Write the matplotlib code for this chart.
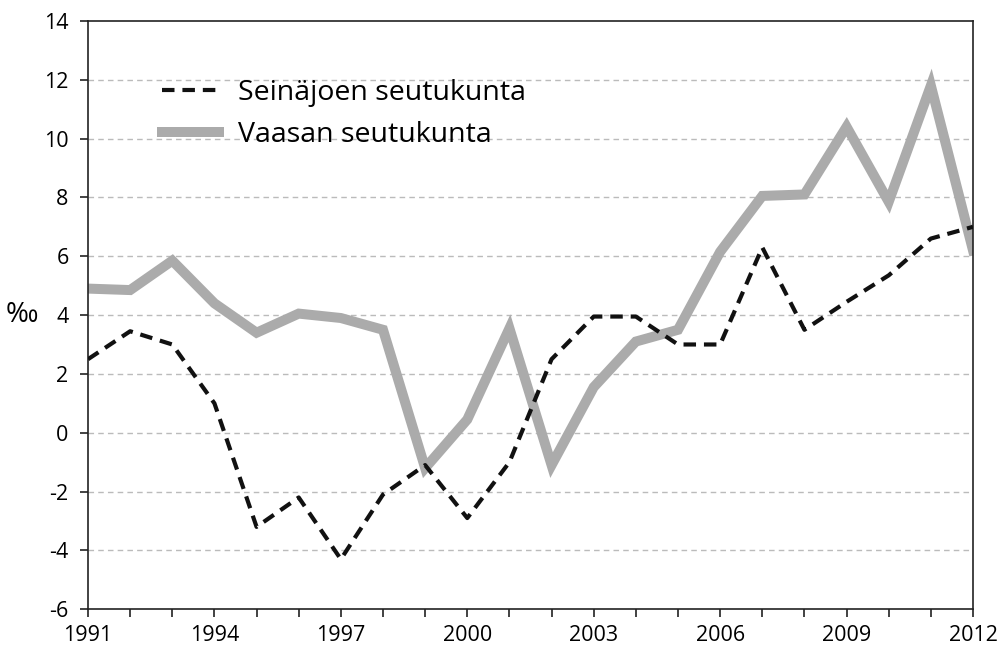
import matplotlib
matplotlib.use('Agg')
import matplotlib.pyplot as plt
from matplotlib.ticker import MultipleLocator

years = list(range(1991, 2013))
seinajoki = [2.5, 3.45, 3.0, 1.0, -3.2, -2.2, -4.3, -2.1, -1.1, -2.9, -1.0,
             2.5, 3.95, 3.95, 3.0, 3.0, 6.3, 3.5, 4.45, 5.35, 6.6, 7.0]
vaasa = [4.9, 4.85, 5.85, 4.4, 3.4, 4.05, 3.9, 3.5, -1.2, 0.45, 3.55,
         -1.1, 1.55, 3.1, 3.5, 6.15, 8.05, 8.1, 10.4, 7.85, 11.8, 6.2]
labels = ['Seinäjoen seutukunta', 'Vaasan seutukunta']
xlabels = list(range(1991, 2013, 3))

plt.rcParams['font.family'] = ['Open Sans', 'DejaVu Sans']
plt.rcParams['axes.unicode_minus'] = False

fig = plt.figure(figsize=(10, 6.53), dpi=100)
ax = fig.add_axes([0.088, 0.067, 0.885, 0.901])

ax.plot(years, seinajoki, color='#111111', lw=3.0, ls=(0, (3.0, 1.9)),
        label=labels[0], zorder=3)
ax.plot(years, vaasa, color='#ababab', lw=7.2, solid_joinstyle='miter',
        label=labels[1], zorder=2)

ax.set_xlim(1991, 2012)
ax.set_ylim(-6, 14)
ax.yaxis.set_major_locator(MultipleLocator(2))
ax.set_xticks(xlabels)
ax.xaxis.set_minor_locator(MultipleLocator(1))
ax.tick_params(axis='both', which='both', direction='out', length=6,
               width=1.2, labelsize=15.5, color='#222222')
ax.tick_params(axis='x', pad=5)
ax.tick_params(axis='y', pad=8)

for y in range(-4, 14, 2):
    ax.axhline(y, color='#bbbbbb', lw=1, ls=(0, (4, 3)), zorder=1)

for s in ax.spines.values():
    s.set_linewidth(1.2)
    s.set_color('#222222')

ax.set_ylabel('‰', rotation=0, fontsize=20, labelpad=16, va='center')

leg = ax.legend(loc='upper left', bbox_to_anchor=(0.055, 0.945), frameon=False,
                fontsize=20.5, handlelength=2.0, handletextpad=0.65,
                labelspacing=0.5)

fig.savefig('out.png', dpi=100)
